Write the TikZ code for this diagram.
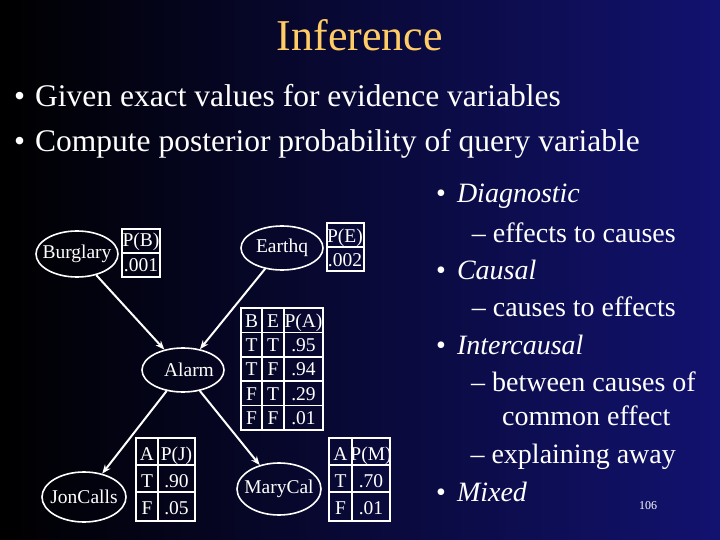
\documentclass[tikz,border=0pt]{standalone}
\usepackage{fontspec}
\setmainfont{Liberation Serif}
\usetikzlibrary{shapes.geometric,arrows.meta}
\definecolor{titleor}{RGB}{255,204,102}
\begin{document}
\begin{tikzpicture}[x=1pt,y=-1pt,
  var/.style={ellipse,draw=white,line width=1.6pt,minimum width=82pt,minimum height=46pt,inner xsep=-16pt,inner ysep=-8pt,text=white,font=\fontsize{19.5}{19.5}\selectfont},
  arr/.style={white,line width=2pt,-{Stealth[length=9pt,width=7pt]}},
  grid/.style={white,line width=1.5pt},
  cell/.style={text=white,font=\fontsize{19.5}{19.5}\selectfont,inner sep=0pt,anchor=base},
  bul/.style={text=white,anchor=base west,inner sep=0pt,font=\fontsize{31.5}{31.5}\selectfont},
  rt/.style={text=white,anchor=base west,inner sep=0pt,font=\fontsize{28}{28}\selectfont}]
\shade[left color=black,right color={rgb,255:red,18;green,18;blue,112}] (0,0) rectangle (720,540);
\useasboundingbox (0,0) rectangle (720,540);
\node[text=titleor,font=\fontsize{44}{44}\selectfont] (title) at (360,35) {Inference};
\node[bul] (b1) at (14,107) {•\hspace{10pt}Given exact values for evidence variables};
\node[bul] (b2) at (14,152) {•\hspace{10pt}Compute posterior probability of query variable};
% right text
\node[rt] (r1) at (436,203) {•\hspace{11pt}\textit{Diagnostic}};
\node[rt,anchor=base east] (r2) at (676,242) {– effects to causes};
\node[rt] (r3) at (436,279) {•\hspace{11pt}\textit{Causal}};
\node[rt,anchor=base east] (r4) at (676,316) {– causes to effects};
\node[rt] (r5) at (436,354) {•\hspace{11pt}\textit{Intercausal}};
\node[rt,anchor=base east] (r6) at (696,391) {– between causes of};
\node[rt] (r7) at (502,425) {common effect};
\node[rt,anchor=base east] (r8) at (676,463) {– explaining away};
\node[rt] (r9) at (436,501) {•\hspace{11pt}\textit{Mixed}};
\node[text=white,font=\fontsize{12}{12}\selectfont,anchor=base] (pg) at (648,509) {106};
% nodes
\node[var] (B) at (77,254) {Burglary};
\node[var,minimum height=44pt] (E) at (282,248) {Earthq};
\node[var,minimum height=44pt] (A) at (183,370) {\raisebox{-8pt}{\hspace{12pt}Alarm}};
\node[var,minimum width=84pt,minimum height=50pt] (J) at (84,497) {JonCalls};
\node[var,minimum width=84pt,minimum height=52pt] (M) at (279,489) {MaryCal};
\draw[arr] (B) -- (A);
\draw[arr] (E) -- (A);
\draw[arr] (A) -- (J);
\draw[arr] (A) -- (M);
% P(B)
\draw[grid] (122,229) rectangle (160,277); \draw[grid] (122,253)--(160,253);
\node[cell] (pb1) at (141,247) {P(B)}; \node[cell] (pb2) at (141,271) {.001};
% P(E)
\draw[grid] (327,223) rectangle (364,271); \draw[grid] (327,247)--(364,247);
\node[cell] (pe1) at (345,242) {P(E)}; \node[cell] (pe2) at (345,266) {.002};
% P(A)
\draw[grid] (241,308) rectangle (323,430);
\foreach \y in {332.4,356.8,381.2,405.6} \draw[grid] (241,\y)--(323,\y);
\foreach \x in {262,284} \draw[grid] (\x,308)--(\x,430);
\foreach \r/\a/\b/\c in {0/B/E/P(A),1/T/T/.95,2/T/F/.94,3/F/T/.29,4/F/F/.01}{
  \node[cell] (pa\r a) at (251.5,327+24.4*\r) {\a};
  \node[cell] (pa\r b) at (273,327+24.4*\r) {\b};
  \node[cell] (pa\r c) at (303.5,327+24.4*\r) {\c};}
% P(J)
\draw[grid] (136,438) rectangle (195,521);
\foreach \y in {465,492} \draw[grid] (136,\y)--(195,\y);
\draw[grid] (158,438)--(158,521);
\foreach \r/\a/\b in {0/A/P(J),1/T/.90,2/F/.05}{
  \node[cell] (pj\r a) at (147,460+27*\r) {\a};
  \node[cell] (pj\r b) at (176.5,460+27*\r) {\b};}
% P(M)
\draw[grid] (329,438) rectangle (390,521);
\foreach \y in {465,492} \draw[grid] (329,\y)--(390,\y);
\draw[grid] (352,438)--(352,521);
\foreach \r/\a/\b in {0/A/P(M),1/T/.70,2/F/.01}{
  \node[cell] (pm\r a) at (340.5,460+27*\r) {\a};
  \node[cell] (pm\r b) at (371,460+27*\r) {\b};}
\end{tikzpicture}
\end{document}
